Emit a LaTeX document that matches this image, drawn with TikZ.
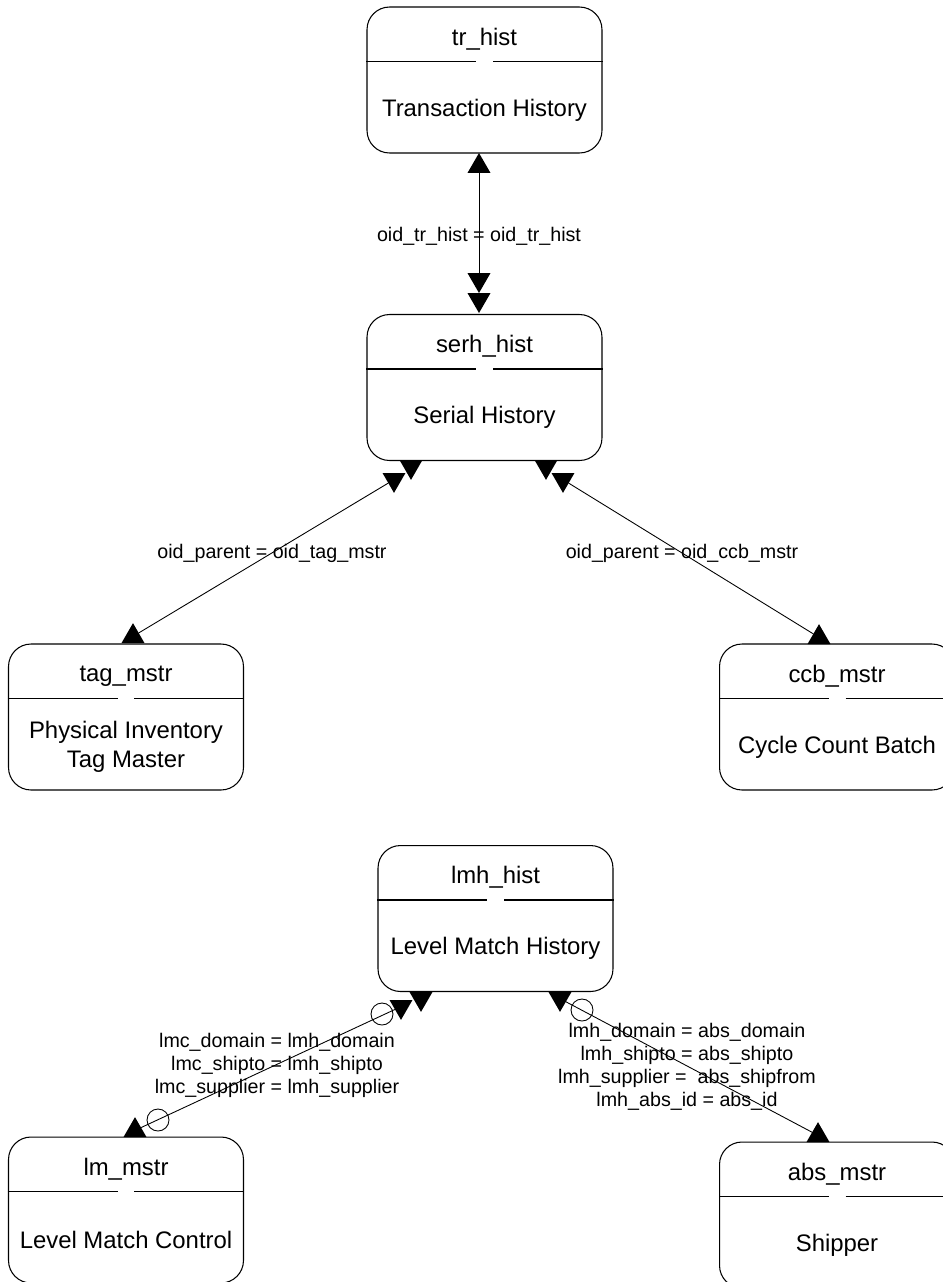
\documentclass[tikz,border=0pt]{standalone}
\usepackage{fontspec}
\setmainfont{Liberation Sans}
\usetikzlibrary{positioning, shapes.geometric}

\begin{document}
\begin{tikzpicture}[
  x=0.02cm, y=-0.02cm,
  entity/.style={draw, line width=0.6pt, rounded corners=0.45cm,
    minimum width=4.7cm, minimum height=2.92cm, inner sep=0pt},
  boxtext/.style={font=\fontsize{13.6}{16.5}\selectfont, align=center, inner sep=0pt},
  joinlabel/.style={font=\fontsize{11.2}{13.1}\selectfont, align=center, inner sep=0pt},
  uptri/.style={regular polygon, regular polygon sides=3, fill=black, draw=none,
    minimum size=0.53cm, inner sep=0pt, outer sep=0pt},
  dntri/.style={uptri, rotate=180},
  ring/.style={circle, draw, line width=0.5pt, minimum size=0.44cm, inner sep=0pt},
  rel/.style={line width=0.5pt}
]
\useasboundingbox (0,0) rectangle (943,1282);
\clip (0,0) rectangle (943,1282);

% tables
\node[entity] (tr) at (484.5,80) {};
\node[entity] (serh) at (484.5,387.5) {};
\node[entity] (tag) at (126,717) {};
\node[entity] (ccb) at (837,717) {};
\node[entity] (lmh) at (495.5,918.5) {};
\node[entity] (lm) at (126,1210) {};
\node[entity] (abs) at (837,1215) {};

\foreach \b/\ttl/\dsc in {tr/tr\_hist/Transaction History,
    serh/serh\_hist/Serial History,
    tag/tag\_mstr/{Physical Inventory\\Tag Master},
    ccb/ccb\_mstr/Cycle Count Batch,
    lmh/lmh\_hist/Level Match History,
    lm/lm\_mstr/Level Match Control,
    abs/abs\_mstr/Shipper} {
  \node[boxtext] (\b-t) at ([yshift=-0.65cm]\b.north) {\ttl};
  \node[boxtext] (\b-d) at ([yshift=-2.07cm]\b.north) {\dsc};
  \draw[line width=0.6pt] ([yshift=-1.1cm]\b.north west) -- ([xshift=-0.17cm, yshift=-1.1cm]\b.north);
  \draw[line width=0.6pt] ([xshift=0.17cm, yshift=-1.1cm]\b.north) -- ([yshift=-1.1cm]\b.north east);
}

% end markers
\node[uptri, anchor=corner 1] (m-tr) at (479,153) {};
\node[dntri, anchor=corner 1] (m-serhA) at (479,313) {};
\node[dntri, anchor=corner 1] (m-serhB) at (479,293) {};

\node[dntri, anchor=side 2] (m-serhC) at (411,460) {};
\node[dntri, anchor=side 2] (m-serhD) at (394,473) {};
\node[uptri, anchor=side 2] (m-tag) at (133,643) {};

\node[dntri, anchor=side 2] (m-serhE) at (546,460) {};
\node[dntri, anchor=side 2] (m-serhF) at (563,473) {};
\node[uptri, anchor=side 2] (m-ccb) at (819,644) {};

\node[dntri, anchor=side 2] (m-lmhA) at (421,992) {};
\node[dntri, anchor=side 2] (m-lmhB) at (401,1000) {};
\node[ring] (c-lmhL) at (382,1014) {};
\node[ring] (c-lm) at (158,1120) {};
\node[uptri, anchor=side 2] (m-lm) at (135,1137) {};

\node[dntri, anchor=side 2] (m-lmhC) at (560,992) {};
\node[ring] (c-lmhR) at (582,1010) {};
\node[uptri, anchor=side 2] (m-abs) at (818,1142) {};

% relationships
\draw[rel] (m-tr) -- (m-serhB);
\draw[rel] (m-tag) -- (m-serhD);
\draw[rel] (m-serhF) -- (m-ccb);
\draw[rel] (m-lmhB) -- (m-lm);
\draw[rel] (m-lmhC) -- (m-abs);

% join labels
\node[joinlabel] (j-tr) at (479,236) {oid\_tr\_hist = oid\_tr\_hist};
\node[joinlabel] (j-tag) at (272,553) {oid\_parent = oid\_tag\_mstr};
\node[joinlabel] (j-ccb) at (682,553) {oid\_parent = oid\_ccb\_mstr};
\node[joinlabel] (j-lm) at (277,1065) {lmc\_domain = lmh\_domain\\lmc\_shipto = lmh\_shipto\\lmc\_supplier = lmh\_supplier};
\node[joinlabel] (j-abs) at (687,1067) {lmh\_domain = abs\_domain\\lmh\_shipto = abs\_shipto\\lmh\_supplier = \ abs\_shipfrom\\lmh\_abs\_id = abs\_id};
\end{tikzpicture}
\end{document}
